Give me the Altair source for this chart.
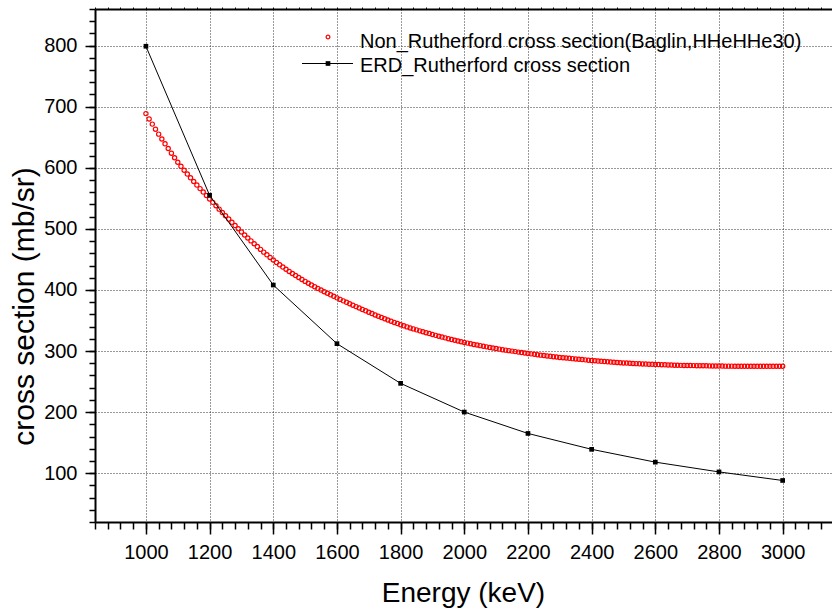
import altair as alt
import pandas as pd

# ---------------- data ----------------
red_energy = list(range(1000, 3001, 10))
red_sigma = [
    688.7, 680.0, 671.5, 663.2, 655.1, 647.1, 639.2, 631.5, 623.9, 616.4,
    609.0, 602.4, 596.0, 589.7, 583.6, 577.6, 571.7, 565.9, 560.2, 554.6,
    549.0, 543.4, 537.8, 532.3, 526.8, 521.4, 516.0, 510.7, 505.4, 500.2,
    495.0, 490.0, 485.1, 480.3, 475.6, 471.0, 466.4, 461.9, 457.5, 453.2,
    449.0, 445.0, 441.1, 437.4, 433.8, 430.3, 426.9, 423.6, 420.4, 417.2,
    414.0, 411.0, 408.1, 405.3, 402.5, 399.8, 397.1, 394.5, 392.0, 389.5,
    387.0, 384.5, 382.1, 379.7, 377.3, 375.0, 372.7, 370.4, 368.1, 365.8,
    363.5, 361.3, 359.1, 357.0, 354.9, 352.8, 350.8, 348.8, 346.8, 344.9,
    343.0, 341.2, 339.5, 337.8, 336.2, 334.6, 333.0, 331.5, 330.0, 328.5,
    327.0, 325.6, 324.2, 322.8, 321.5, 320.2, 318.9, 317.6, 316.4, 315.2,
    314.0, 312.9, 311.8, 310.8, 309.8, 308.8, 307.8, 306.8, 305.8, 304.9,
    304.0, 303.1, 302.2, 301.4, 300.6, 299.8, 299.0, 298.2, 297.4, 296.7,
    296.0, 295.3, 294.6, 293.9, 293.2, 292.5, 291.9, 291.3, 290.7, 290.1,
    289.5, 289.0, 288.5, 288.0, 287.5, 287.0, 286.5, 286.0, 285.5, 285.0,
    284.5, 284.0, 283.5, 283.1, 282.7, 282.3, 281.9, 281.5, 281.1, 280.8,
    280.5, 280.2, 279.9, 279.6, 279.3, 279.0, 278.8, 278.6, 278.4, 278.2,
    278.0, 277.8, 277.6, 277.4, 277.2, 277.0, 276.8, 276.6, 276.5, 276.4,
    276.3, 276.2, 276.1, 276.0, 275.9, 275.8, 275.7, 275.6, 275.5, 275.4,
    275.3, 275.3, 275.2, 275.2, 275.2, 275.1, 275.1, 275.1, 275.0, 275.0,
    275.0, 275.0, 274.9, 274.9, 274.9, 274.9, 274.9, 274.9, 275.0, 275.0,
    275.0,
]
erd_energy = [1000, 1200, 1400, 1600, 1800, 2000, 2200, 2400, 2600, 2800, 3000]
erd_sigma = [799, 555, 408, 312, 247, 200, 165, 139, 118, 102, 88]

x_major = list(range(1000, 3001, 200))
x_minor = list(range(840, 3155, 40))
y_major = list(range(100, 801, 100))
y_minor = list(range(20, 861, 20))

legend_labels = ["Non_Rutherford cross section(Baglin,HHeHHe30)", "ERD_Rutherford cross section"]
x_title = "Energy (keV)"
y_title = "cross section (mb/sr)"

FONT = "Liberation Sans"
X_DOM = [840, 3155]
Y_DOM = [20, 860]

red_df = pd.DataFrame({"E": red_energy, "s": red_sigma})
erd_df = pd.DataFrame({"E": erd_energy, "s": erd_sigma})

xs = alt.Scale(domain=X_DOM, nice=False, zero=False)
ys = alt.Scale(domain=Y_DOM, nice=False, zero=False)

grid_kw = dict(grid=True, gridDash=[1, 2], gridColor="#333333", gridWidth=1, gridOpacity=1)

x_main_axis = alt.Axis(
    orient="bottom", values=x_major, format="d", tickSize=12, tickWidth=1.5, tickColor="black",
    domainColor="black", domainWidth=2, labelFont=FONT, labelFontSize=20, labelColor="black",
    labelPadding=8, labelFlush=False, labelOverlap=False,
    title=x_title, titleFont=FONT, titleFontSize=28, titleFontWeight="normal", titleColor="black",
    titleBaseline="alphabetic", titleX=368, titleY=79, titleAlign="center", titleAnchor="middle",
    **grid_kw,
)
y_main_axis = alt.Axis(
    orient="left", values=y_major, format="d", tickSize=10, tickWidth=1.5, tickColor="black",
    domainColor="black", domainWidth=2, labelFont=FONT, labelFontSize=20, labelColor="black",
    labelPadding=8, labelFlush=False, labelOverlap=False,
    title=y_title, titleFont=FONT, titleFontSize=30, titleFontWeight="normal", titleColor="black",
    titleAngle=-90, titleBaseline="alphabetic", titleX=-62, titleY=297, titleAlign="center",
    titleAnchor="middle",
    **grid_kw,
)

red_layer = alt.Chart(red_df).mark_point(
    shape="circle", filled=False, color="#ff0000", size=18, strokeWidth=1.2, opacity=1
).encode(
    x=alt.X("E:Q", scale=xs, axis=x_main_axis),
    y=alt.Y("s:Q", scale=ys, axis=y_main_axis),
)

erd_layer = alt.Chart(erd_df).mark_line(
    color="black", strokeWidth=1,
    point=alt.OverlayMarkDef(shape="square", filled=True, color="black", size=22, opacity=1),
).encode(
    x=alt.X("E:Q", scale=xs, axis=None),
    y=alt.Y("s:Q", scale=ys, axis=None),
)

minor_layer = alt.Chart(erd_df).mark_point(opacity=0).encode(
    x=alt.X("E:Q", scale=xs, axis=alt.Axis(
        orient="bottom", values=x_minor, tickSize=7, tickWidth=1.5, tickColor="black",
        domain=False, labels=False, grid=False, title=None)),
    y=alt.Y("s:Q", scale=ys, axis=alt.Axis(
        orient="left", values=y_minor, tickSize=6, tickWidth=1.5, tickColor="black",
        domain=False, labels=False, grid=False, title=None)),
)

top_layer = alt.Chart(erd_df).mark_point(opacity=0).encode(
    x=alt.X("E:Q", scale=xs, axis=alt.Axis(
        orient="top", values=x_minor, tickSize=2, tickWidth=1, tickColor="black",
        domain=True, domainColor="black", domainWidth=2, labels=False, grid=False, title=None)),
    y=alt.Y("s:Q", scale=ys, axis=None),
)

# manual legend
leg1_sym = alt.Chart(pd.DataFrame({"k": [0]})).mark_point(
    shape="circle", filled=False, color="#ff0000", size=14, strokeWidth=1.2, opacity=1
).encode(x=alt.value(233), y=alt.value(28))
leg1_txt = alt.Chart(pd.DataFrame({"t": [legend_labels[0]]})).mark_text(
    align="left", baseline="alphabetic", font=FONT, fontSize=20, color="black"
).encode(x=alt.value(265), y=alt.value(39), text="t:N")
leg2_line = alt.Chart(pd.DataFrame({"k": [0]})).mark_rule(color="black", strokeWidth=1).encode(
    x=alt.value(207), x2=alt.value(258), y=alt.value(54.5))
leg2_sym = alt.Chart(pd.DataFrame({"k": [0]})).mark_point(
    shape="square", filled=True, color="black", size=22, opacity=1
).encode(x=alt.value(233), y=alt.value(54.5))
leg2_txt = alt.Chart(pd.DataFrame({"t": [legend_labels[1]]})).mark_text(
    align="left", baseline="alphabetic", font=FONT, fontSize=20, color="black"
).encode(x=alt.value(265), y=alt.value(63), text="t:N")

chart = alt.layer(
    red_layer, minor_layer, top_layer, erd_layer,
    leg1_sym, leg1_txt, leg2_line, leg2_sym, leg2_txt,
).resolve_scale(
    x="independent", y="independent"
).resolve_axis(
    x="independent", y="independent"
).properties(
    width=737, height=513,
    autosize=alt.AutoSizeParams(type="none"),
    padding={"left": 95, "top": 9, "right": 0, "bottom": 88},
    background="white",
).configure_view(stroke=None)

chart.save("out.html", embed_options={"renderer": "svg", "actions": False})
